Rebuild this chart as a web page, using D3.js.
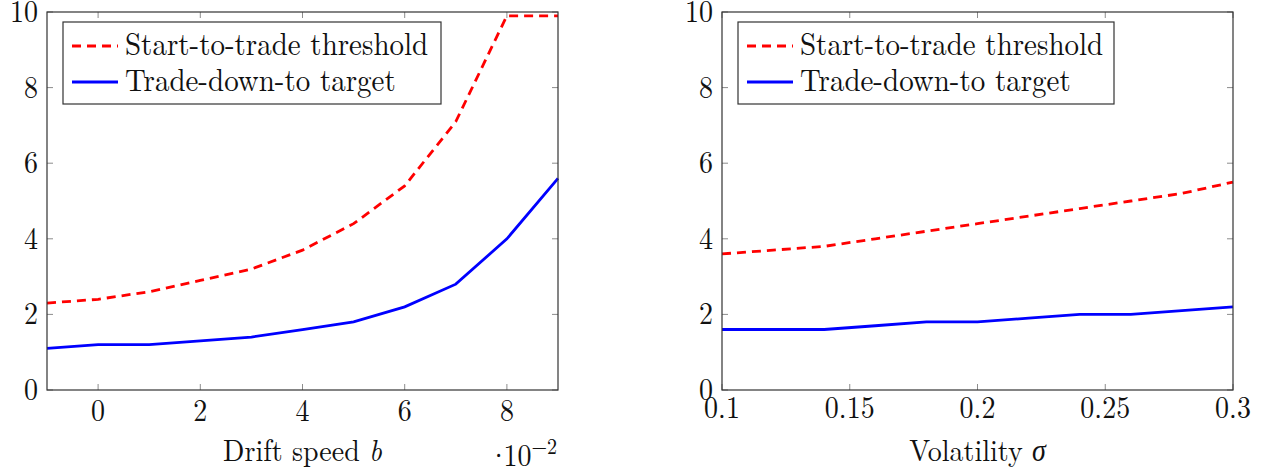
<!DOCTYPE html>
<html>
<head>
<meta charset="utf-8">
<script src="https://cdn.jsdelivr.net/npm/d3@7"></script>
<style>
  body { margin: 0; background: #fff; }
</style>
</head>
<body>
<svg class="graph" width="1269" height="469" font-family="'Latin Modern Roman', 'Liberation Serif', serif"></svg>
<script>
// left panel: drift speed b (x 10^-2)
const driftX = [-1, 0, 1, 2, 3, 4, 5, 6, 7, 8, 9];
const driftStart = [2.3, 2.4, 2.6, 2.9, 3.2, 3.7, 4.4, 5.4, 7.1, 9.9, 9.9];
const driftTarget = [1.1, 1.2, 1.2, 1.3, 1.4, 1.6, 1.8, 2.2, 2.8, 4.0, 5.6];
const driftTicks = [0, 2, 4, 6, 8];

// right panel: volatility sigma
const volX = [0.1, 0.12, 0.14, 0.16, 0.18, 0.2, 0.22, 0.24, 0.26, 0.28, 0.3];
const volStart = [3.6, 3.7, 3.8, 4.0, 4.2, 4.4, 4.6, 4.8, 5.0, 5.2, 5.5];
const volTarget = [1.6, 1.6, 1.6, 1.7, 1.8, 1.8, 1.9, 2.0, 2.0, 2.1, 2.2];
const volTicks = [0.1, 0.15, 0.2, 0.25, 0.3];

const yTicks = [0, 2, 4, 6, 8, 10];
const legendLabels = ['Start-to-trade threshold', 'Trade-down-to target'];

const svg = d3.select('svg.graph');

// the reference text is a bit taller than wide, stretch glyphs vertically
const stretch = 1.1;
function label(parent, x, y, size) {
    return parent.append('text')
        .attr('transform', `translate(${x}, ${y}) scale(1, ${stretch})`)
        .attr('font-size', size)
        .attr('fill', '#111');
}

function panel(opt) {
    const { left, right, top, bottom } = opt;
    const g = svg.append('g');

    const x = d3.scaleLinear().domain(opt.xDomain).range([left, right]);
    const y = d3.scaleLinear().domain([0, 10]).range([bottom, top]);

    // ticks, inward on all four sides
    const tickLen = 6;
    const tickColor = '#8c8c8c';
    opt.xTicks.forEach(t => {
        g.append('line').attr('x1', x(t)).attr('x2', x(t))
            .attr('y1', bottom).attr('y2', bottom - tickLen)
            .attr('stroke', tickColor).attr('stroke-width', 1);
        g.append('line').attr('x1', x(t)).attr('x2', x(t))
            .attr('y1', top).attr('y2', top + tickLen)
            .attr('stroke', tickColor).attr('stroke-width', 1);
    });
    yTicks.forEach(t => {
        g.append('line').attr('x1', left).attr('x2', left + tickLen)
            .attr('y1', y(t)).attr('y2', y(t))
            .attr('stroke', tickColor).attr('stroke-width', 1);
        g.append('line').attr('x1', right).attr('x2', right - tickLen)
            .attr('y1', y(t)).attr('y2', y(t))
            .attr('stroke', tickColor).attr('stroke-width', 1);
    });

    // series
    const line = d3.line().x(d => x(d[0])).y(d => y(d[1]));
    g.append('path')
        .datum(d3.zip(opt.xs, opt.start))
        .attr('d', line)
        .attr('fill', 'none')
        .attr('stroke', '#ff0000')
        .attr('stroke-width', 2.8)
        .attr('stroke-dasharray', '9 6');
    g.append('path')
        .datum(d3.zip(opt.xs, opt.target))
        .attr('d', line)
        .attr('fill', 'none')
        .attr('stroke', '#0000ff')
        .attr('stroke-width', 2.8);

    // frame
    g.append('rect')
        .attr('x', left).attr('y', top)
        .attr('width', right - left).attr('height', bottom - top)
        .attr('fill', 'none').attr('stroke', '#333').attr('stroke-width', 1.2);

    // tick labels
    opt.xTicks.forEach(t => {
        label(g, x(t), opt.xLabelY, 28)
            .attr('text-anchor', 'middle')
            .text(t);
    });
    yTicks.forEach(t => {
        label(g, left - 9, y(t) + 10, 28)
            .attr('text-anchor', 'end')
            .text(t);
    });

    // axis title
    const title = label(g, (left + right) / 2, 461, 28)
        .attr('text-anchor', 'middle');
    title.append('tspan').text(opt.title);
    title.append('tspan').attr('font-style', 'italic').text(opt.sym);

    // legend
    const lg = g.append('g').attr('transform', `translate(${opt.legend[0]}, ${opt.legend[1]})`);
    lg.append('rect').attr('width', opt.legend[2]).attr('height', 82)
        .attr('fill', '#fff').attr('stroke', '#333').attr('stroke-width', 1.2);
    legendLabels.forEach((lab, i) => {
        const yy = 24 + i * 36;
        lg.append('line').attr('x1', 9).attr('x2', 55).attr('y1', yy).attr('y2', yy)
            .attr('stroke', i === 0 ? '#ff0000' : '#0000ff')
            .attr('stroke-width', 2.8)
            .attr('stroke-dasharray', i === 0 ? '9 6' : null);
        label(lg, 62, yy + 9, 29).text(lab);
    });
    return { g, x, y };
}

const p1 = panel({
    left: 47, right: 558, top: 12, bottom: 390,
    xDomain: [-1, 9], xTicks: driftTicks, xs: driftX,
    start: driftStart, target: driftTarget,
    xLabelY: 421,
    title: 'Drift speed ', sym: 'b',
    legend: [63, 22, 378]
});

// scale factor label
const sc = label(p1.g, 557, 466, 28).attr('text-anchor', 'end');
sc.append('tspan').text('·');
sc.append('tspan').attr('dx', -6).text('10');
sc.append('tspan').attr('dy', -11).attr('font-size', 20).text('−2');

panel({
    left: 722, right: 1233, top: 12, bottom: 390,
    xDomain: [0.1, 0.3], xTicks: volTicks, xs: volX,
    start: volStart, target: volTarget,
    xLabelY: 418,
    title: 'Volatility ', sym: 'σ',
    legend: [738, 22, 376]
});
</script>
</body>
</html>
